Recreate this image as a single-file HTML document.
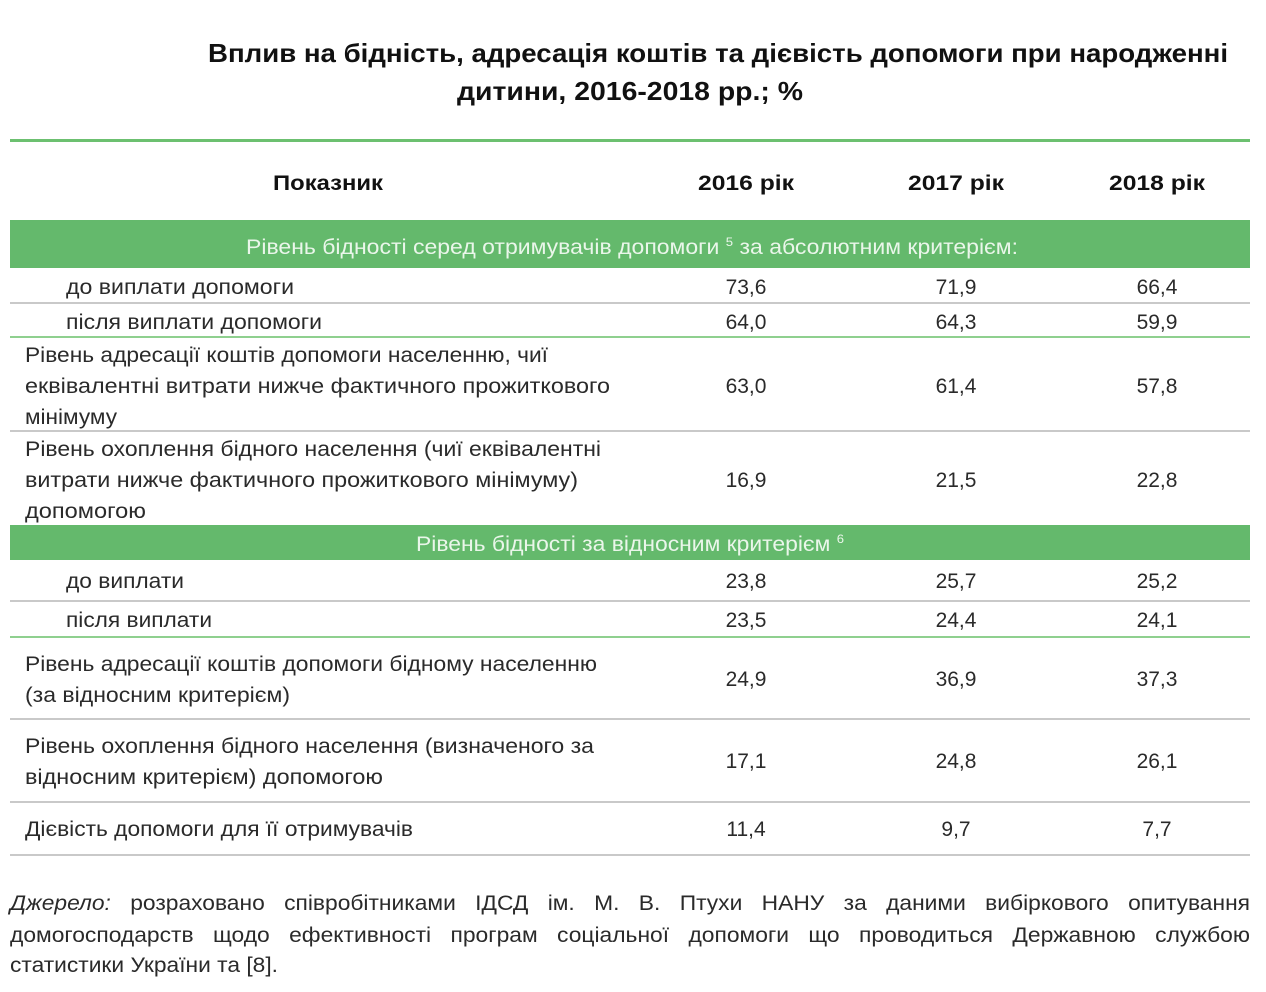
<!DOCTYPE html>
<html><head><meta charset="utf-8"><style>
body{margin:0;background:#fff;}
svg{display:block;}
text{font-family:"Liberation Sans",sans-serif;fill:#2a2a2a;}
.b{font-weight:bold;fill:#111;}
.v{font-size:21px;text-anchor:middle;}
.t{font-size:21px;}
.w{fill:#eaf6ea;font-size:21px;}
.f{font-size:21px;word-spacing:12px;}
</style></head><body>
<svg width="1266" height="992" viewBox="0 0 1266 992">
<text class="b" x="208" y="62" font-size="26" textLength="1020" lengthAdjust="spacingAndGlyphs">Вплив на бідність, адресація коштів та дієвість допомоги при народженні</text>
<text class="b" x="457" y="100" font-size="26" textLength="346" lengthAdjust="spacingAndGlyphs">дитини, 2016-2018 рр.; %</text>
<rect x="10" y="139" width="1240" height="3" fill="#6cc070"/>
<text class="b" x="273" y="190" font-size="21" textLength="110" lengthAdjust="spacingAndGlyphs">Показник</text>
<text class="b v" x="746" y="190" textLength="96" lengthAdjust="spacingAndGlyphs">2016 рік</text>
<text class="b v" x="956" y="190" textLength="96" lengthAdjust="spacingAndGlyphs">2017 рік</text>
<text class="b v" x="1157" y="190" textLength="96" lengthAdjust="spacingAndGlyphs">2018 рік</text>
<rect x="10" y="220" width="1240" height="48" fill="#64b96c"/>
<text class="w" x="246" y="254" textLength="772" lengthAdjust="spacingAndGlyphs">Рівень бідності серед отримувачів допомоги <tspan font-size="12" dy="-8">5</tspan><tspan dy="8"> за абсолютним критерієм:</tspan></text>
<g class="t">
<text class="t" x="66" y="294" textLength="228" lengthAdjust="spacingAndGlyphs">до виплати допомоги</text>
<text class="t" x="66" y="329" textLength="256" lengthAdjust="spacingAndGlyphs">після виплати допомоги</text>
<text class="t" x="25" y="362" textLength="523" lengthAdjust="spacingAndGlyphs">Рівень адресації коштів допомоги населенню, чиї</text>
<text class="t" x="25" y="393" textLength="585" lengthAdjust="spacingAndGlyphs">еквівалентні витрати нижче фактичного прожиткового</text>
<text class="t" x="25" y="424" textLength="92" lengthAdjust="spacingAndGlyphs">мінімуму</text>
<text class="t" x="25" y="456" textLength="576" lengthAdjust="spacingAndGlyphs">Рівень охоплення бідного населення (чиї еквівалентні</text>
<text class="t" x="25" y="487" textLength="553" lengthAdjust="spacingAndGlyphs">витрати нижче фактичного прожиткового мінімуму)</text>
<text class="t" x="25" y="518" textLength="121" lengthAdjust="spacingAndGlyphs">допомогою</text>
<text class="t" x="66" y="588" textLength="118" lengthAdjust="spacingAndGlyphs">до виплати</text>
<text class="t" x="66" y="627" textLength="146" lengthAdjust="spacingAndGlyphs">після виплати</text>
<text class="t" x="25" y="671" textLength="572" lengthAdjust="spacingAndGlyphs">Рівень адресації коштів допомоги бідному населенню</text>
<text class="t" x="25" y="702" textLength="265" lengthAdjust="spacingAndGlyphs">(за відносним критерієм)</text>
<text class="t" x="25" y="753" textLength="569" lengthAdjust="spacingAndGlyphs">Рівень охоплення бідного населення (визначеного за</text>
<text class="t" x="25" y="784" textLength="358" lengthAdjust="spacingAndGlyphs">відносним критерієм) допомогою</text>
<text class="t" x="25" y="836" textLength="388" lengthAdjust="spacingAndGlyphs">Дієвість допомоги для її отримувачів</text>
</g>
<rect x="10" y="525" width="1240" height="35" fill="#64b96c"/>
<text class="w" x="416" y="551" textLength="428" lengthAdjust="spacingAndGlyphs">Рівень бідності за відносним критерієм <tspan font-size="12" dy="-8">6</tspan></text>
<g fill="#c9c9c9">
<rect x="10" y="302" width="1240" height="2"/>
<rect x="10" y="430" width="1240" height="2"/>
<rect x="10" y="600" width="1240" height="2"/>
<rect x="10" y="718" width="1240" height="2"/>
<rect x="10" y="801" width="1240" height="2"/>
<rect x="10" y="854" width="1240" height="2"/>
</g>
<g fill="#8fd08f">
<rect x="10" y="336" width="1240" height="2"/>
<rect x="10" y="636" width="1240" height="2"/>
</g>
<g class="v">
<text class="v" x="746" y="294">73,6</text><text class="v" x="956" y="294">71,9</text><text class="v" x="1157" y="294">66,4</text>
<text class="v" x="746" y="329">64,0</text><text class="v" x="956" y="329">64,3</text><text class="v" x="1157" y="329">59,9</text>
<text class="v" x="746" y="393">63,0</text><text class="v" x="956" y="393">61,4</text><text class="v" x="1157" y="393">57,8</text>
<text class="v" x="746" y="487">16,9</text><text class="v" x="956" y="487">21,5</text><text class="v" x="1157" y="487">22,8</text>
<text class="v" x="746" y="588">23,8</text><text class="v" x="956" y="588">25,7</text><text class="v" x="1157" y="588">25,2</text>
<text class="v" x="746" y="627">23,5</text><text class="v" x="956" y="627">24,4</text><text class="v" x="1157" y="627">24,1</text>
<text class="v" x="746" y="686">24,9</text><text class="v" x="956" y="686">36,9</text><text class="v" x="1157" y="686">37,3</text>
<text class="v" x="746" y="768">17,1</text><text class="v" x="956" y="768">24,8</text><text class="v" x="1157" y="768">26,1</text>
<text class="v" x="746" y="836">11,4</text><text class="v" x="956" y="836">9,7</text><text class="v" x="1157" y="836">7,7</text>
</g>
<text class="f" x="10" y="910" textLength="1240" lengthAdjust="spacingAndGlyphs"><tspan font-style="italic">Джерело:</tspan> розраховано співробітниками ІДСД ім. М. В. Птухи НАНУ за даними вибіркового опитування</text>
<text class="f" x="10" y="942" textLength="1240" lengthAdjust="spacingAndGlyphs">домогосподарств щодо ефективності програм соціальної допомоги що проводиться Державною службою</text>
<text class="t" x="10" y="972" textLength="268" lengthAdjust="spacingAndGlyphs">статистики України та [8].</text>
</svg>
</body></html>
